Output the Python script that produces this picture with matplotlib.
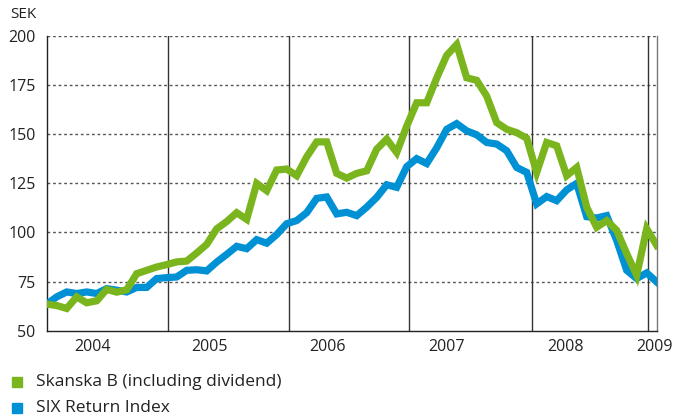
import matplotlib
matplotlib.use("Agg")
import matplotlib.pyplot as plt
from matplotlib.patches import Rectangle

plt.rcParams['font.family'] = ['Open Sans', 'DejaVu Sans']

# Monthly index (0 = Jan 2004)
months = list(range(62))

skanska = [63.5, 62.8, 61.3, 67.2, 64.2, 65.2, 71.0, 69.6, 70.8, 79.0,
           80.7, 82.4, 83.6, 85.0, 85.4, 89.5, 93.9, 101.8, 105.5, 110.0,
           106.6, 124.9, 121.2, 131.7, 132.2, 128.8, 138.4, 146.0, 146.0, 130.0,
           127.6, 130.0, 131.3, 142.3, 147.4, 140.6, 154.0, 165.9, 165.9, 178.5,
           190.0, 195.5, 178.6, 177.3, 169.3, 155.8, 152.4, 150.7, 147.9, 130.5,
           145.7, 144.0, 128.8, 133.0, 112.8, 102.6, 106.0, 101.0, 89.2, 78.2,
           101.8, 93.4]

six_index = [63.5, 67.2, 69.7, 68.9, 69.7, 68.9, 71.4, 70.6, 69.7, 72.0,
             72.0, 76.5, 77.0, 77.3, 80.7, 81.0, 80.4, 84.9, 88.8, 92.9,
             91.7, 96.3, 94.5, 98.9, 104.4, 106.0, 110.0, 117.3, 118.0, 109.4,
             110.2, 108.5, 112.8, 117.8, 124.2, 122.9, 133.4, 137.5, 135.0, 143.0,
             152.4, 155.3, 151.6, 149.6, 145.7, 144.9, 141.5, 133.0, 130.5, 114.5,
             118.2, 116.1, 121.6, 124.9, 108.0, 107.3, 108.5, 95.9, 80.7, 76.5,
             79.4, 74.8]

year_lines = [12.1, 24.2, 36.2, 48.5, 60.1]
year_labels = ['2004', '2005', '2006', '2007', '2008', '2009']
year_label_pos = [4.6, 16.3, 28.1, 40.0, 51.9, 60.8]
y_ticks = [50, 75, 100, 125, 150, 175, 200]

series_names = ['Skanska B (including dividend)', 'SIX Return Index']
green = '#7ab51d'
blue = '#0091d4'

fig = plt.figure(figsize=(6.73, 4.18), dpi=100)
ax = fig.add_axes([46.7/673, 1-330.7/418, (656.7-46.7)/673, (330.7-35.7)/418])

ax.set_xlim(0, 61)
ax.set_ylim(50, 200)

for v in y_ticks[1:]:
    ax.axhline(v, color='#555555', lw=1.0, ls=(0, (2, 2)), zorder=1)
for xl in year_lines:
    ax.axvline(xl, color='#333333', lw=1.0, zorder=1)

ax.plot(months, six_index, color=blue, lw=5.2, solid_joinstyle='miter', zorder=3)
ax.plot(months, skanska, color=green, lw=5.2, solid_joinstyle='miter', zorder=4)

ax.set_yticks(y_ticks)
ax.set_yticklabels([str(v) for v in y_ticks], fontsize=11.5, color='#222222')
ax.tick_params(axis='y', length=0, pad=8)
ax.set_xticks([])

ax.spines['top'].set_visible(False)
ax.spines['left'].set_color('#222222')
ax.spines['bottom'].set_color('#222222')
ax.spines['right'].set_color('#777777')
for s in ['left', 'bottom', 'right']:
    ax.spines[s].set_linewidth(1.0)

for lab, xp in zip(year_labels, year_label_pos):
    ax.text(xp, 50 - 16/1.976, lab, ha='center', va='center', fontsize=11.5,
            color='#222222')

fig.text(10/673, 1-15/418, 'SEK', ha='left', va='center', fontsize=11, color='#222222')

# Legend
for i, (name, col) in enumerate(zip(series_names, [green, blue])):
    yc = 382 + i*26
    fig.patches.append(Rectangle((12/673, 1-(yc+5)/418), 10/673, 10/418,
                                 transform=fig.transFigure, color=col))
    fig.text(36/673, 1-yc/418, name, ha='left', va='center', fontsize=12.5, color='#222222')

fig.savefig('out.png', dpi=100)
